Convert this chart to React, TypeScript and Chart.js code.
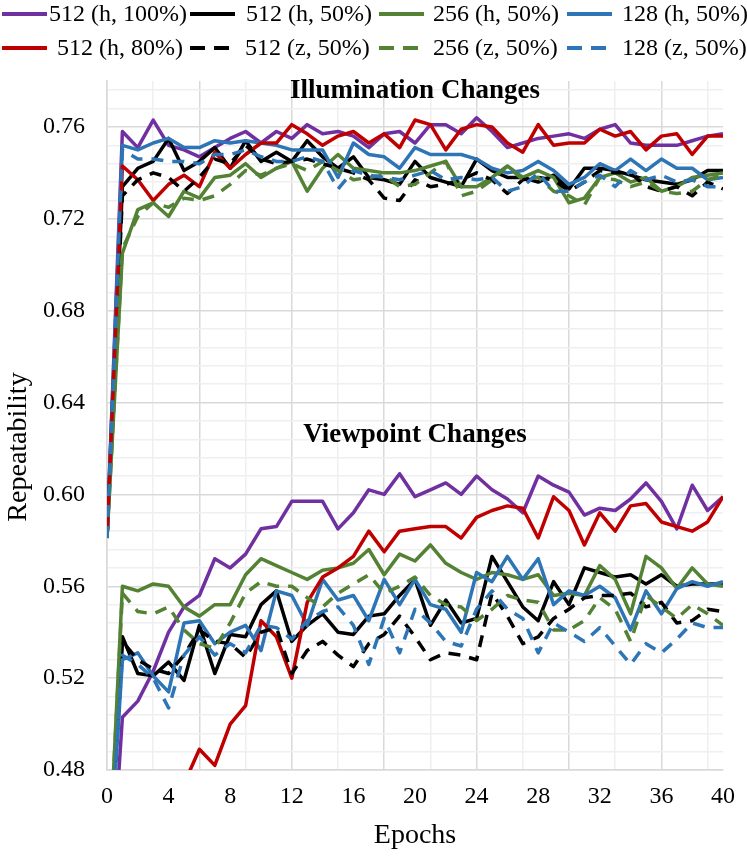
import React, { useEffect, useRef } from 'react';
import { Chart, registerables } from 'chart.js';

Chart.register(...registerables);

// ---------- data ----------
const epochs = [0,1,2,3,4,5,6,7,8,9,10,11,12,13,14,15,16,17,18,19,20,21,22,23,24,25,26,27,28,29,30,31,32,33,34,35,36,37,38,39,40];

// Illumination changes
const ill512h100 = [0.581,0.758,0.751,0.763,0.752,0.750,0.747,0.751,0.755,0.758,0.753,0.758,0.755,0.761,0.757,0.758,0.756,0.751,0.757,0.758,0.753,0.761,0.761,0.757,0.764,0.758,0.751,0.753,0.755,0.756,0.757,0.755,0.759,0.761,0.753,0.752,0.752,0.752,0.754,0.756,0.757];
const ill512h50 = [0.581,0.734,0.742,0.745,0.755,0.741,0.745,0.751,0.742,0.754,0.745,0.749,0.745,0.754,0.747,0.742,0.747,0.738,0.737,0.735,0.745,0.738,0.736,0.734,0.746,0.741,0.738,0.738,0.736,0.739,0.733,0.742,0.742,0.741,0.739,0.737,0.736,0.735,0.737,0.741,0.741];
const ill256h50 = [0.581,0.705,0.724,0.727,0.721,0.732,0.729,0.738,0.739,0.744,0.738,0.742,0.745,0.732,0.742,0.748,0.742,0.741,0.740,0.740,0.741,0.743,0.745,0.734,0.734,0.738,0.743,0.738,0.741,0.738,0.727,0.729,0.738,0.740,0.736,0.738,0.732,0.734,0.738,0.739,0.740];
const ill128h50 = [0.581,0.752,0.750,0.753,0.755,0.751,0.751,0.754,0.753,0.754,0.753,0.752,0.750,0.750,0.750,0.738,0.753,0.748,0.747,0.742,0.751,0.748,0.748,0.748,0.746,0.742,0.740,0.741,0.745,0.741,0.735,0.738,0.744,0.741,0.746,0.741,0.746,0.742,0.742,0.737,0.738];
const ill512h80 = [0.581,0.743,0.737,0.728,0.735,0.739,0.734,0.749,0.742,0.748,0.753,0.753,0.761,0.757,0.752,0.756,0.758,0.753,0.757,0.751,0.763,0.761,0.750,0.759,0.761,0.760,0.753,0.749,0.761,0.752,0.753,0.753,0.759,0.756,0.758,0.750,0.756,0.757,0.748,0.756,0.756];
const ill512z50 = [0.581,0.730,0.737,0.740,0.738,0.732,0.738,0.746,0.744,0.752,0.746,0.744,0.745,0.746,0.744,0.742,0.740,0.737,0.729,0.728,0.737,0.734,0.735,0.737,0.740,0.737,0.731,0.737,0.738,0.737,0.732,0.736,0.741,0.740,0.740,0.734,0.732,0.734,0.730,0.736,0.733];
const ill256z50 = [0.581,0.707,0.721,0.727,0.725,0.729,0.728,0.730,0.735,0.741,0.739,0.742,0.744,0.741,0.745,0.741,0.737,0.738,0.739,0.734,0.735,0.740,0.745,0.730,0.732,0.737,0.743,0.737,0.738,0.732,0.730,0.726,0.738,0.737,0.734,0.736,0.732,0.731,0.732,0.737,0.739];
const ill128z50 = [0.581,0.750,0.746,0.746,0.745,0.745,0.744,0.748,0.748,0.750,0.747,0.745,0.745,0.747,0.745,0.733,0.741,0.739,0.738,0.737,0.739,0.741,0.737,0.738,0.737,0.738,0.732,0.734,0.740,0.732,0.732,0.736,0.739,0.734,0.741,0.737,0.739,0.736,0.737,0.734,0.734];

// Viewpoint changes
const vp512h100 = [0.400,0.503,0.510,0.523,0.540,0.551,0.556,0.572,0.568,0.574,0.585,0.586,0.597,0.597,0.597,0.585,0.592,0.602,0.600,0.609,0.599,0.602,0.605,0.600,0.608,0.602,0.598,0.592,0.608,0.604,0.601,0.591,0.594,0.593,0.598,0.605,0.597,0.585,0.604,0.593,0.599];
const vp512h50 = [0.420,0.538,0.522,0.521,0.527,0.519,0.543,0.522,0.539,0.538,0.552,0.558,0.536,0.543,0.548,0.540,0.539,0.547,0.548,0.556,0.563,0.543,0.554,0.544,0.546,0.573,0.562,0.551,0.545,0.562,0.552,0.568,0.566,0.564,0.565,0.561,0.565,0.560,0.561,0.561,0.561];
const vp256h50 = [0.420,0.560,0.558,0.561,0.560,0.551,0.547,0.552,0.552,0.565,0.572,0.569,0.566,0.563,0.567,0.568,0.570,0.576,0.565,0.574,0.571,0.578,0.570,0.566,0.563,0.566,0.565,0.563,0.565,0.556,0.557,0.556,0.569,0.563,0.548,0.573,0.568,0.559,0.568,0.561,0.560];
const vp128h50 = [0.420,0.528,0.531,0.521,0.514,0.544,0.545,0.535,0.540,0.543,0.532,0.558,0.556,0.543,0.563,0.554,0.556,0.545,0.563,0.552,0.563,0.552,0.550,0.540,0.566,0.562,0.573,0.563,0.572,0.552,0.558,0.556,0.560,0.555,0.541,0.558,0.548,0.559,0.562,0.560,0.562];
const vp512h80 = [0.380,0.410,0.430,0.450,0.462,0.474,0.489,0.482,0.500,0.508,0.545,0.538,0.520,0.553,0.564,0.568,0.573,0.584,0.575,0.584,0.585,0.586,0.586,0.581,0.590,0.593,0.595,0.594,0.581,0.599,0.593,0.578,0.592,0.584,0.595,0.596,0.588,0.586,0.584,0.588,0.599];
const vp512z50 = [0.420,0.536,0.528,0.524,0.522,0.530,0.541,0.536,0.535,0.529,0.540,0.542,0.522,0.532,0.536,0.530,0.525,0.535,0.539,0.547,0.538,0.528,0.531,0.530,0.528,0.557,0.547,0.535,0.538,0.546,0.550,0.555,0.556,0.556,0.557,0.551,0.553,0.544,0.545,0.550,0.549];
const vp256z50 = [0.420,0.557,0.549,0.548,0.551,0.541,0.535,0.533,0.544,0.557,0.562,0.560,0.560,0.555,0.551,0.557,0.561,0.565,0.557,0.560,0.564,0.556,0.552,0.551,0.545,0.550,0.556,0.554,0.553,0.541,0.541,0.545,0.555,0.550,0.536,0.556,0.551,0.546,0.552,0.548,0.543];
const vp128z50 = [0.420,0.530,0.526,0.520,0.507,0.530,0.538,0.530,0.535,0.531,0.543,0.542,0.537,0.545,0.549,0.551,0.543,0.526,0.546,0.531,0.550,0.544,0.536,0.534,0.550,0.558,0.550,0.546,0.531,0.544,0.540,0.536,0.542,0.534,0.526,0.535,0.531,0.537,0.544,0.542,0.542];

const seriesLabels = ['512 (h, 100%)', '512 (h, 50%)', '256 (h, 50%)', '128 (h, 50%)', '512 (h, 80%)', '512 (z, 50%)', '256 (z, 50%)', '128 (z, 50%)'];
const illuminationSeries = [ill512h100, ill512h50, ill256h50, ill128h50, ill512h80, ill512z50, ill256z50, ill128z50];
const viewpointSeries = [vp512h100, vp512h50, vp256h50, vp128h50, vp512h80, vp512z50, vp256z50, vp128z50];
const seriesColors = ['#7030A0', '#000000', '#548235', '#2E75B6', '#C00000', '#000000', '#548235', '#2E75B6'];
const seriesDashed = [false, false, false, false, false, true, true, true];

const xTitle = 'Epochs';
const yTitle = 'Repeatability';
const xMin = 0;
const xMax = 40;
const xLabelStep = 4;
const xGridStep = 3;
const yMin = 0.48;
const yMax = 0.78;
const yGridStep = 0.008;
const yLabelEvery = 5;

const panelTitles = [
  { text: 'Illumination Changes', x: 20, y: 0.7725 },
  { text: 'Viewpoint Changes', x: 20, y: 0.6229 },
];

const FONT = '"Liberation Serif", "Times New Roman", serif';
const MAJOR_GRID = '#d9d9d9';
const MINOR_GRID = '#efefef';

// ---------- plugins ----------
const legendLayout = {
  rowY: [14, 48],
  lineX: [2, 190, 379, 567],
  textX: [[49, 246, 433, 622], [57, 245, 433, 622]],
};

const customLegend = {
  id: 'customLegend',
  afterDraw(chart: any) {
    const ctx = chart.ctx as CanvasRenderingContext2D;
    ctx.save();
    ctx.font = `24px ${FONT}`;
    ctx.textBaseline = 'middle';
    ctx.textAlign = 'left';
    seriesLabels.forEach((label, i) => {
      const row = Math.floor(i / 4);
      const col = i % 4;
      const y = legendLayout.rowY[row];
      const x0 = legendLayout.lineX[col];
      ctx.strokeStyle = seriesColors[i];
      ctx.lineWidth = 4;
      ctx.lineCap = 'butt';
      ctx.setLineDash(seriesDashed[i] ? [15, 9] : []);
      ctx.beginPath();
      ctx.moveTo(x0, y);
      ctx.lineTo(x0 + (seriesDashed[i] ? 39 : 45), y);
      ctx.stroke();
      ctx.setLineDash([]);
      ctx.fillStyle = '#000';
      ctx.fillText(label, legendLayout.textX[row][col], y + 1);
    });
    ctx.restore();
  },
};

const panelTitlePlugin = {
  id: 'panelTitles',
  afterDatasetsDraw(chart: any) {
    const ctx = chart.ctx as CanvasRenderingContext2D;
    const xs = chart.scales.x;
    const ys = chart.scales.y;
    ctx.save();
    ctx.font = `bold 27px ${FONT}`;
    ctx.textAlign = 'center';
    ctx.textBaseline = 'alphabetic';
    ctx.fillStyle = '#000';
    panelTitles.forEach((t) => {
      ctx.fillText(t.text, xs.getPixelForValue(t.x), ys.getPixelForValue(t.y));
    });
    // y axis title
    ctx.font = `28px ${FONT}`;
    ctx.textBaseline = 'middle';
    ctx.translate(19, 447);
    ctx.rotate(-Math.PI / 2);
    ctx.fillText(yTitle, 0, 0);
    ctx.restore();
  },
};

function buildDatasets() {
  const sets: any[] = [];
  const make = (values: number[], i: number, group: string) => ({
    label: `${seriesLabels[i]} ${group}`,
    data: epochs.map((e, k) => ({ x: e, y: values[k] })),
    borderColor: seriesColors[i],
    backgroundColor: seriesColors[i],
    borderWidth: 3.5,
    borderDash: seriesDashed[i] ? [12, 9] : [],
    borderJoinStyle: 'round',
    pointRadius: 0,
    tension: 0,
    fill: false,
    clip: 0,
  });
  illuminationSeries.forEach((vals, i) => sets.push(make(vals, i, 'illumination')));
  viewpointSeries.forEach((vals, i) => sets.push(make(vals, i, 'viewpoint')));
  return sets.reverse();
}

export default function App() {
  const canvasRef = useRef<HTMLCanvasElement | null>(null);

  useEffect(() => {
    if (!canvasRef.current) return;
    const yTickValues: number[] = [];
    for (let k = 0; yMin + k * yGridStep <= yMax - 1e-9; k++) yTickValues.push(+(yMin + k * yGridStep).toFixed(3));
    const xTickValues: number[] = [];
    for (let v = xMin; v <= xMax; v++) xTickValues.push(v);

    const chart = new Chart(canvasRef.current, {
      type: 'line',
      data: { datasets: buildDatasets() },
      options: {
        animation: false,
        responsive: false,
        devicePixelRatio: 1,
        layout: { padding: { top: 81, right: 16, bottom: 3, left: 0 } },
        plugins: { legend: { display: false }, tooltip: { enabled: false } },
        scales: {
          x: {
            type: 'linear',
            min: xMin,
            max: xMax,
            afterBuildTicks: (s: any) => { s.ticks = xTickValues.map((v) => ({ value: v })); },
            afterFit: (s: any) => { s.height = 83; },
            grid: {
              drawTicks: false,
              color: (c: any) => {
                const v = Math.round(c.tick?.value ?? 0);
                if (v % (xGridStep * 2) === 0) return MAJOR_GRID;
                if (v % xGridStep === 0) return MINOR_GRID;
                return 'rgba(0,0,0,0)';
              },
              lineWidth: 1.5,
            },
            border: { color: MAJOR_GRID, width: 1.5 },
            ticks: {
              autoSkip: false,
              maxRotation: 0,
              padding: 12,
              color: '#000',
              font: { family: FONT, size: 24 },
              callback: (v: any) => (Math.round(v) % xLabelStep === 0 ? String(Math.round(v)) : ''),
            },
            title: { display: true, text: xTitle, color: '#000', font: { family: FONT, size: 28 }, padding: { top: 2, bottom: 1 } },
          },
          y: {
            type: 'linear',
            min: yMin,
            max: yMax,
            afterBuildTicks: (s: any) => { s.ticks = yTickValues.map((v) => ({ value: v })); },
            afterFit: (s: any) => { s.width = 107; },
            grid: {
              drawTicks: false,
              color: (c: any) => {
                const k = Math.round(((c.tick?.value ?? yMin) - yMin) / yGridStep);
                return k % yLabelEvery === 0 ? MAJOR_GRID : MINOR_GRID;
              },
              lineWidth: 1.5,
            },
            border: { color: MAJOR_GRID, width: 1.5 },
            ticks: {
              autoSkip: false,
              padding: 22,
              color: '#000',
              font: { family: FONT, size: 24 },
              callback: (v: any) => {
                const k = Math.round((v - yMin) / yGridStep);
                return k % yLabelEvery === 0 ? Number(v).toFixed(2) : '';
              },
            },
            title: { display: false },
          },
        },
      } as any,
      plugins: [panelTitlePlugin, customLegend],
    });
    return () => chart.destroy();
  }, []);

  return (
    <div style={{ position: 'absolute', left: 0, top: 0, width: 747, height: 856, background: '#fff' }}>
      <canvas ref={canvasRef} width={747} height={856} style={{ display: 'block', width: 747, height: 856 }} />
    </div>
  );
}
